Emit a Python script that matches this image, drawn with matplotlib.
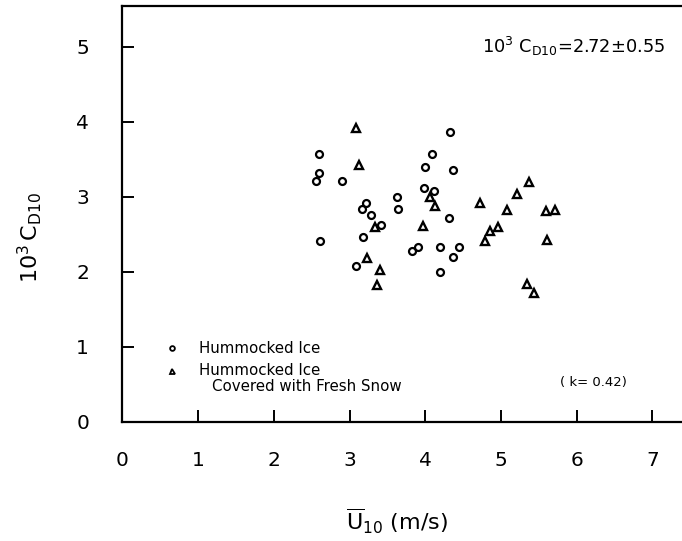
import matplotlib
matplotlib.use("Agg")
import matplotlib.pyplot as plt

# Drag coefficient vs 10 m wind speed
hummocked_u = [2.59, 2.59, 2.56, 2.90, 2.61, 3.21, 3.17, 3.28, 3.41, 3.18,
               3.08, 3.63, 3.64, 3.83, 3.90, 4.00, 3.98, 4.33, 4.09, 4.36,
               4.11, 4.31, 4.19, 4.45, 4.36, 4.19]
hummocked_cd = [3.57, 3.32, 3.21, 3.21, 2.41, 2.91, 2.83, 2.75, 2.62, 2.46,
                2.08, 3.00, 2.83, 2.28, 2.33, 3.40, 3.11, 3.86, 3.57, 3.36,
                3.08, 2.72, 2.33, 2.33, 2.20, 1.99]

snow_u = [3.08, 3.12, 3.34, 3.23, 3.40, 3.36, 3.97, 4.06, 4.13, 4.72, 4.79,
          4.86, 4.96, 5.08, 5.21, 5.37, 5.59, 5.71, 5.61, 5.34, 5.44]
snow_cd = [3.92, 3.42, 2.59, 2.18, 2.02, 1.82, 2.61, 3.00, 2.88, 2.92, 2.41,
           2.54, 2.59, 2.82, 3.04, 3.19, 2.81, 2.82, 2.42, 1.83, 1.72]

x_ticks = [0, 1, 2, 3, 4, 5, 6, 7]
y_ticks = [0, 1, 2, 3, 4, 5]

fig = plt.figure(figsize=(6.82, 5.41), dpi=100)
ax = fig.add_axes([0.1796, 0.2205, 0.8204, 0.7684])

ax.plot(hummocked_u, hummocked_cd, linestyle="none", marker="o",
        markersize=5.0, markerfacecolor="white", markeredgecolor="black",
        markeredgewidth=1.6)
ax.plot(snow_u, snow_cd, linestyle="none", marker="^",
        markersize=5.6, markerfacecolor="white", markeredgecolor="black",
        markeredgewidth=1.7)

ax.set_xlim(0, 7.39)
ax.set_ylim(0, 5.54)
ax.set_xticks(x_ticks)
ax.set_yticks(y_ticks)
ax.tick_params(direction="in", length=8.5, width=1.4, labelsize=14.5)
ax.tick_params(axis="y", pad=24)
ax.tick_params(axis="x", pad=21)
ax.spines["right"].set_visible(False)
for side in ("left", "bottom", "top"):
    ax.spines[side].set_linewidth(1.6)

ax.set_ylabel(r"$10^3\,$C$_{\mathregular{D10}}$", fontsize=16)
ax.yaxis.set_label_coords(-0.14, 0.444)
ax.set_xlabel(r"$\overline{\mathregular{U}}_{\mathregular{10}}$ (m/s)",
              fontsize=16)
ax.xaxis.set_label_coords(0.49, -0.205)

ax.text(4.75, 5.0, r"$10^3$ C$_{\mathregular{D10}}$=2.72$\pm$0.55",
        fontsize=12.8, ha="left", va="center")

# Key for the two surface types
ax.plot([0.655], [0.98], marker="o", markersize=3.4, markerfacecolor="white",
        markeredgecolor="black", markeredgewidth=1.3, clip_on=False)
ax.plot([0.655], [0.676], marker="^", markersize=3.6, markerfacecolor="white",
        markeredgecolor="black", markeredgewidth=1.3, clip_on=False)
ax.text(1.01, 0.98, "Hummocked Ice", fontsize=10.8, va="center", ha="left")
ax.text(1.01, 0.676, "Hummocked Ice", fontsize=10.8, va="center", ha="left")
ax.text(1.18, 0.475, "Covered with Fresh Snow", fontsize=10.8, va="center",
        ha="left")
ax.text(5.78, 0.52, "( k= 0.42)", fontsize=9.5, va="center", ha="left")

fig.savefig("out.png", dpi=100)
